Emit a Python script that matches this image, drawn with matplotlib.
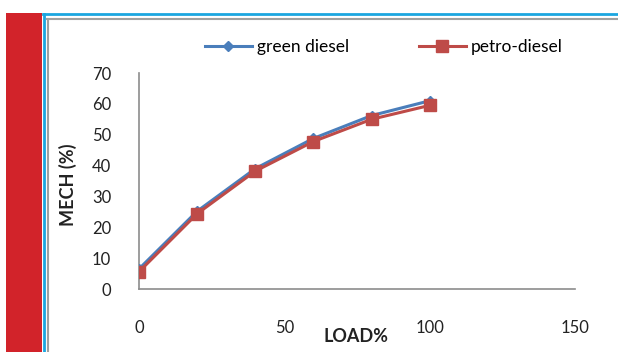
import matplotlib
matplotlib.use('Agg')
import matplotlib.pyplot as plt
from matplotlib.patches import Rectangle
from matplotlib.lines import Line2D

# data
load = [0, 20, 40, 60, 80, 100]
green_diesel = [6.5, 25.2, 39.0, 48.8, 56.2, 61.0]
petro_diesel = [5.6, 24.4, 38.2, 47.8, 55.0, 59.5]
xticks = [0, 50, 100, 150]
yticks = [0, 10, 20, 30, 40, 50, 60, 70]

plt.rcParams['font.family'] = ['Lato', 'DejaVu Sans']

W, H = 618, 352
fig = plt.figure(figsize=(W / 100, H / 100), dpi=100)
fig.patch.set_facecolor('white')

def fx(px):
    return px / W

def fy(py):
    return 1 - py / H

# page decoration: red band, blue and grey frame lines
fig.patches.append(Rectangle((fx(6), 0), fx(42) - fx(6), fy(13), transform=fig.transFigure,
                             facecolor='#D2232A', edgecolor='none'))
fig.lines.append(Line2D([fx(44), fx(44)], [0, fy(14)], transform=fig.transFigure, color='#1BA6E0', lw=2))
fig.lines.append(Line2D([fx(43), 1], [fy(14), fy(14)], transform=fig.transFigure, color='#1BA6E0', lw=2))
fig.lines.append(Line2D([fx(47.5), fx(47.5)], [0, fy(18.5)], transform=fig.transFigure, color='#A0A0A0', lw=1.5))
fig.lines.append(Line2D([fx(47), 1], [fy(18.5), fy(18.5)], transform=fig.transFigure, color='#A0A0A0', lw=1.5))

# plot area
ax = fig.add_axes([fx(139), fy(289), fx(575) - fx(139), fy(73) - fy(289)])
ax.plot(load, green_diesel, color='#4A7EBB', lw=2.2, marker='D', ms=5.5,
        markerfacecolor='#4A7EBB', markeredgecolor='#4A7EBB', label='green diesel', zorder=3)
ax.plot(load, petro_diesel, color='#BE4B48', lw=2.2, marker='s', ms=9,
        markerfacecolor='#BE4B48', markeredgecolor='#BE4B48', label='petro-diesel', zorder=4)

ax.set_xlim(0, 150)
ax.set_ylim(0, 70)
ax.set_xticks(xticks)
ax.set_yticks(yticks)
ax.tick_params(axis='x', length=0, pad=22, labelsize=12, colors='#222222')
ax.tick_params(axis='y', length=0, pad=20, labelsize=12, colors='#222222')
for s in ['top', 'right']:
    ax.spines[s].set_visible(False)
for s in ['left', 'bottom']:
    ax.spines[s].set_color('#8C8C8C')
    ax.spines[s].set_linewidth(1.2)

fig.text(fx(356), fy(337), 'LOAD%', ha='center', va='center', fontsize=13, fontweight='bold', color='#222222')
fig.text(fx(68), fy(185), 'MECH (%)', ha='center', va='center', rotation=90,
         fontsize=13, fontweight='bold', color='#222222')

fig.legend(loc='center left', bbox_to_anchor=(fx(205), fy(47)), ncol=2, frameon=False,
           borderpad=0, borderaxespad=0, fontsize=12.5, handlelength=2.7, handletextpad=0.3,
           columnspacing=4.0)

fig.savefig('out.png', dpi=100)
